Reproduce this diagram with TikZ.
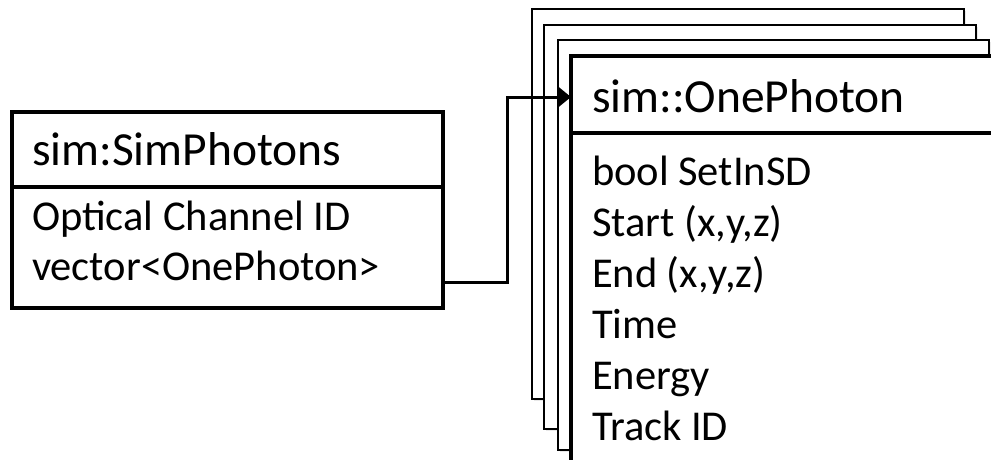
\documentclass[tikz,border=0pt]{standalone}
\usepackage{fontspec}
\setmainfont{Carlito}
\usetikzlibrary{arrows.meta,shadows}
\begin{document}
\begin{tikzpicture}[x=1pt,y=-1pt,
  every node/.style={inner sep=0pt, outer sep=0pt},
  backcard/.style={draw=black, line width=2pt, fill=white, anchor=north west,
    drop shadow={shadow xshift=2pt, shadow yshift=-2pt, opacity=0.18}},
  classbox/.style={draw=black, line width=4pt, fill=white, anchor=north west},
  divider/.style={draw=black, line width=4pt},
  headtxt/.style={anchor=base west, font=\fontsize{47.5}{57}\selectfont},
  txt/.style={anchor=base west, font=\fontsize{42.5}{51}\selectfont},
  link/.style={draw=black, line width=3pt, -{Triangle[length=14pt,width=22pt]}}]
  \useasboundingbox (0,0) rectangle (991,459);
  \clip (0,0) rectangle (991,459);

  % stacked copies behind the OnePhoton class
  \node[backcard, minimum width=432, minimum height=390] (card1) at (532,9) {};
  \node[backcard, minimum width=432, minimum height=404] (card2) at (544,25) {};
  \node[backcard, minimum width=431, minimum height=410] (card3) at (558,40) {};

  % sim::OnePhoton class
  \node[classbox, minimum width=450, minimum height=430] (front) at (571,56) {};
  \draw[divider] (front.west |- 0,133) -- (front.east |- 0,133);
  \node[headtxt] (ophead) at (592,112) {sim::OnePhoton};
  \node[txt] (f1) at (592,185) {bool SetInSD};
  \node[txt] (f2) at (592,236) {Start (x,y,z)};
  \node[txt] (f3) at (592,287) {End (x,y,z)};
  \node[txt] (f4) at (592,338) {Time};
  \node[txt] (f5) at (592,389) {Energy};
  \node[txt] (f6) at (592,440) {Track ID};

  % sim:SimPhotons class
  \node[classbox, minimum width=431, minimum height=196] (simbox) at (12,112) {};
  \draw[divider] (simbox.west |- 0,187) -- (simbox.east |- 0,187);
  \node[headtxt] (sphead) at (32,165) {sim:SimPhotons};
  \node[txt] (chan) at (32,230) {Optical Channel ID};
  \node[txt] (vec) at (32,280) {vector<OnePhoton>};

  % vector<OnePhoton> refers to the OnePhoton class
  \coordinate (bend) at (507,97);
  \draw[link] ([yshift=-2pt]vec.base -| simbox.east) -| (bend) -- (bend -| front.west);
\end{tikzpicture}
\end{document}
